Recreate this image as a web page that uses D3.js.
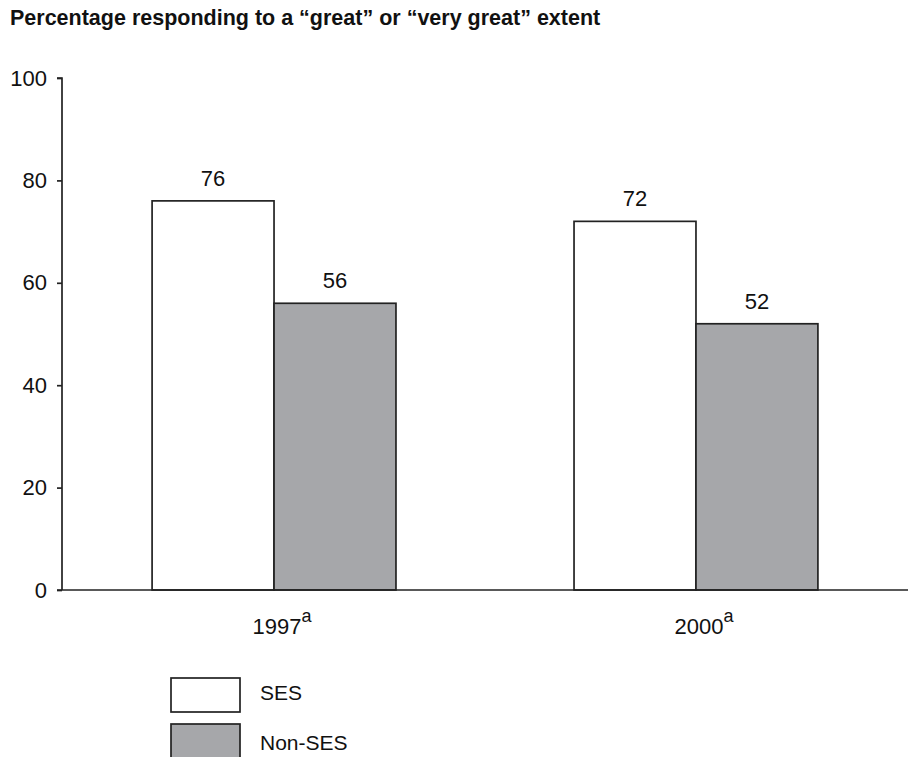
<html>
<head>
<script src="https://d3js.org/d3.v7.min.js"></script>
<style>
body { margin: 0; background: #fff; font-family: "Liberation Sans", Arial, sans-serif; }
text { fill: #111; }
</style>
</head>
<body>
<svg id="chart" width="909" height="757"></svg>
<script>
var years = ["1997", "2000"];
var seriesNames = ["SES", "Non-SES"];
var sesValues = [76, 72];
var nonSesValues = [56, 52];
var yTicks = [0, 20, 40, 60, 80, 100];

var fills = ["#ffffff", "#a6a7aa"];
var svg = d3.select("#chart");

// plot area
var plotLeft = 62, plotRight = 908, plotTop = 78, plotBottom = 590;

var x = d3.scaleBand()
.domain(years)
.range([plotLeft, plotRight])
.paddingInner(0.422)
.paddingOuter(0.2135);

var xSub = d3.scaleBand()
.domain(seriesNames)
.range([0, x.bandwidth()]);

var y = d3.scaleLinear()
.domain([0, 100])
.range([plotBottom, plotTop]);

var rows = years.map(function (yr, i) {
    return { year: yr, values: [sesValues[i], nonSesValues[i]] };
});

// title
svg.append("text")
.attr("x", 10)
.attr("y", 25)
.style("font-size", "21.5px")
.style("font-weight", "bold")
.text("Percentage responding to a \u201cgreat\u201d or \u201cvery great\u201d extent");

// y axis
var yAxis = svg.append("g")
.attr("transform", "translate(" + plotLeft + ",0)")
.call(d3.axisLeft(y).tickValues(yTicks).tickSize(5).tickPadding(10));
yAxis.select(".domain").attr("stroke", "#222").attr("stroke-width", 1.7).attr("d", "M-5," + plotTop + "H0V" + plotBottom);
yAxis.selectAll(".tick line").attr("stroke", "#222").attr("stroke-width", 1.7);
yAxis.selectAll(".tick text")
.style("font-family", "Liberation Sans, Arial, sans-serif")
.style("font-size", "22px")
.attr("fill", "#111");

// bars
var groups = svg.selectAll("g.year")
.data(rows)
.enter().append("g")
.attr("class", "year")
.attr("transform", function (d) { return "translate(" + x(d.year) + ",0)"; });

groups.selectAll("rect")
.data(function (d) { return d.values.map(function (v, j) { return { name: seriesNames[j], value: v, idx: j }; }); })
.enter().append("rect")
.attr("x", function (d) { return xSub(d.name); })
.attr("y", function (d) { return y(d.value); })
.attr("width", xSub.bandwidth())
.attr("height", function (d) { return y(0) - y(d.value); })
.attr("fill", function (d) { return fills[d.idx]; })
.attr("stroke", "#222")
.attr("stroke-width", 1.7);

groups.selectAll("text.val")
.data(function (d) { return d.values.map(function (v, j) { return { name: seriesNames[j], value: v }; }); })
.enter().append("text")
.attr("class", "val")
.attr("x", function (d) { return xSub(d.name) + xSub.bandwidth() / 2; })
.attr("y", function (d) { return y(d.value) - 15; })
.attr("text-anchor", "middle")
.style("font-size", "22px")
.text(function (d) { return d.value; });

// x baseline
svg.append("line")
.attr("x1", plotLeft - 5)
.attr("x2", plotRight)
.attr("y1", y(0))
.attr("y2", y(0))
.attr("stroke", "#222")
.attr("stroke-width", 1.7);

// x labels with superscript a
var xl = svg.selectAll("text.xlab")
.data(years)
.enter().append("text")
.attr("class", "xlab")
.attr("x", function (d) { return x(d) + x.bandwidth() / 2 + 8; })
.attr("y", 634)
.attr("text-anchor", "middle")
.style("font-size", "22px");
xl.append("tspan").text(function (d) { return d; });
xl.append("tspan")
.attr("dy", -12)
.style("font-size", "18px")
.text("a");

// legend
var legend = svg.selectAll("g.legend")
.data(seriesNames)
.enter().append("g")
.attr("class", "legend")
.attr("transform", function (d, i) { return "translate(171," + (678 + i * 46) + ")"; });

legend.append("rect")
.attr("width", 69)
.attr("height", 34)
.attr("fill", function (d, i) { return fills[i]; })
.attr("stroke", "#222")
.attr("stroke-width", 1.7);

legend.append("text")
.attr("x", 89)
.attr("y", function (d, i) { return 22 + i * 4; })
.style("font-size", "21px")
.text(function (d) { return d; });
</script>
</body>
</html>
